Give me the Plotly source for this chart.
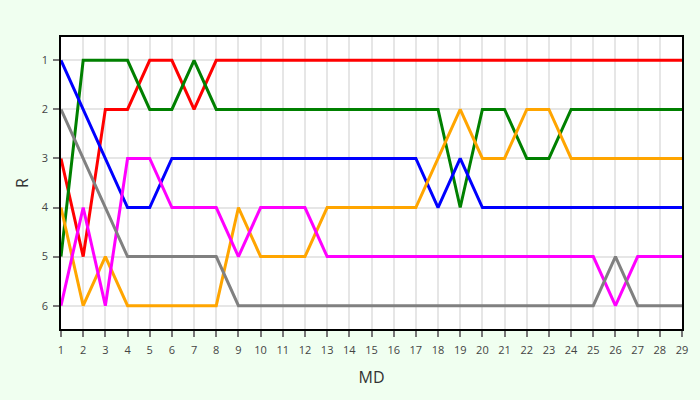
import plotly.graph_objects as go

md = list(range(1, 30))

# rank of each series per matchday
red = [3, 5, 2, 2, 1, 1, 2, 1, 1, 1, 1, 1, 1, 1, 1, 1, 1, 1, 1, 1, 1, 1, 1, 1, 1, 1, 1, 1, 1]
green = [5, 1, 1, 1, 2, 2, 1, 2, 2, 2, 2, 2, 2, 2, 2, 2, 2, 2, 4, 2, 2, 3, 3, 2, 2, 2, 2, 2, 2]
blue = [1, 2, 3, 4, 4, 3, 3, 3, 3, 3, 3, 3, 3, 3, 3, 3, 3, 4, 3, 4, 4, 4, 4, 4, 4, 4, 4, 4, 4]
orange = [4, 6, 5, 6, 6, 6, 6, 6, 4, 5, 5, 5, 4, 4, 4, 4, 4, 3, 2, 3, 3, 2, 2, 3, 3, 3, 3, 3, 3]
magenta = [6, 4, 6, 3, 3, 4, 4, 4, 5, 4, 4, 4, 5, 5, 5, 5, 5, 5, 5, 5, 5, 5, 5, 5, 5, 6, 5, 5, 5]
gray = [2, 3, 4, 5, 5, 5, 5, 5, 6, 6, 6, 6, 6, 6, 6, 6, 6, 6, 6, 6, 6, 6, 6, 6, 6, 5, 6, 6, 6]

series = {
    "red": red,
    "green": green,
    "blue": blue,
    "orange": orange,
    "magenta": magenta,
    "gray": gray,
}

fig = go.Figure()
for color, ranks in series.items():
    fig.add_trace(go.Scatter(x=md, y=ranks, mode="lines", name=color,
                             line=dict(color=color, width=3)))

fig.update_layout(
    width=700, height=400,
    margin=dict(l=61, r=15, t=37, b=71),
    paper_bgcolor="#f0fff0",
    plot_bgcolor="white",
    showlegend=False,
    font=dict(family="Open Sans, sans-serif", color="#444"),
)
fig.update_xaxes(
    title=dict(text="MD", font=dict(size=16, color="#333"), standoff=16),
    range=[1, 29], tickmode="linear", tick0=1, dtick=1,
    showgrid=True, gridcolor="#e6e6e6", gridwidth=2,
    showline=True, linecolor="black", linewidth=1.5, mirror=True,
    ticks="outside", ticklen=6, tickwidth=2, tickcolor="#777",
    tickfont=dict(size=11), ticklabelstandoff=4, zeroline=False,
)
fig.update_yaxes(
    title=dict(text="R", font=dict(size=16, color="#333"), standoff=9),
    range=[6.475, 0.525], tickmode="linear", tick0=1, dtick=1,
    showgrid=True, gridcolor="#e6e6e6", gridwidth=2,
    showline=True, linecolor="black", linewidth=1.5, mirror=True,
    ticks="outside", ticklen=6, tickwidth=2, tickcolor="#777",
    tickfont=dict(size=11), ticklabelstandoff=3, zeroline=False,
)

# drop the default page margin so the figure sits at the window corner
fig.write_html("out.html", config={"displayModeBar": False},
               post_script="document.body.style.margin='0';")
